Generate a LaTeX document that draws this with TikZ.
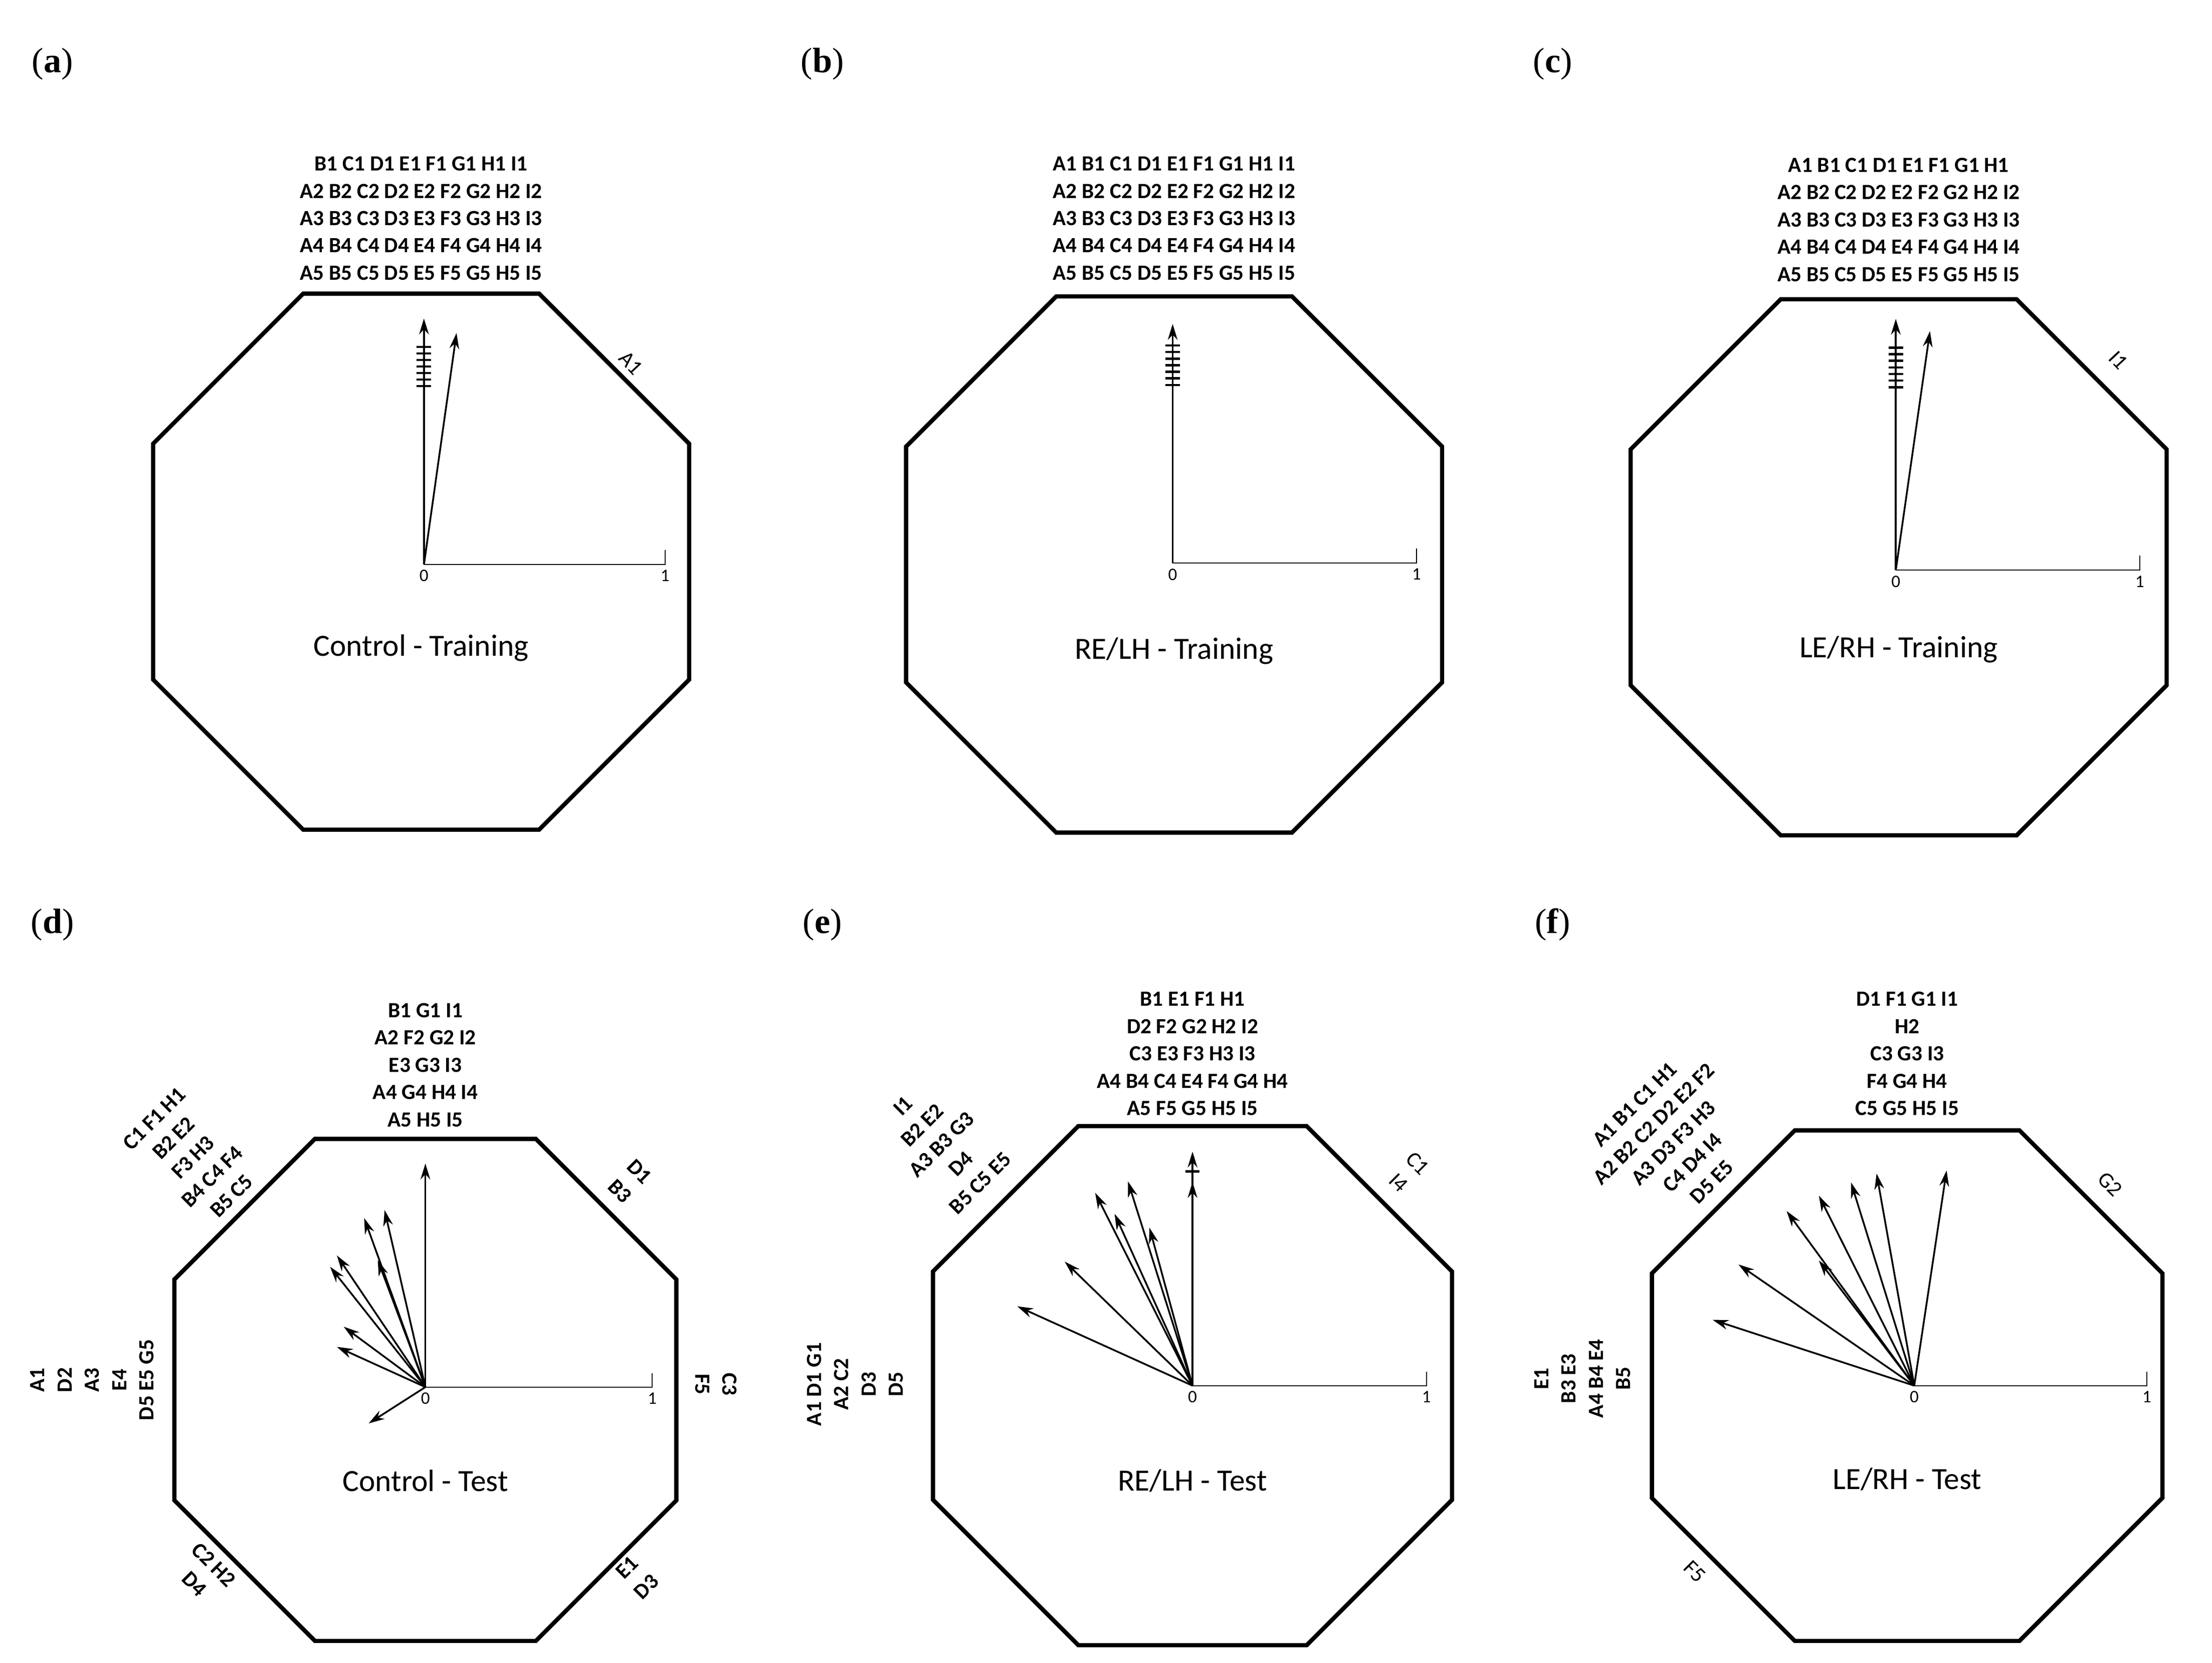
\documentclass[tikz,border=0pt]{standalone}
\usepackage{fontspec}
\setmainfont{Liberation Serif}
\newfontfamily\lab{Carlito}
\usetikzlibrary{arrows.meta}

\tikzset{
  octa/.style={line width=2.4pt, line join=miter},
  vec/.style={-{Stealth[length=9pt,width=5.5pt]}, line width=1pt},
  axis/.style={line width=0.6pt},
  bar/.style={line width=1.3pt},
  ids/.style={font=\lab\bfseries\fontsize{12.3}{15.5}\selectfont, align=center, inner sep=1pt},
  side/.style={font=\lab\fontsize{12.3}{15.5}\selectfont, align=center, inner sep=1pt},
  title/.style={font=\lab\fontsize{17.5}{20}\selectfont},
  num/.style={font=\lab\fontsize{10}{12}\selectfont, below, inner sep=3pt},
  tag/.style={font=\fontsize{20}{24}\selectfont},
}

% octagon: centre x, centre y, half width
\newcommand\drawocta[3]{%
  \draw[octa] ({#1-0.44*#3},{#2-#3}) -- ({#1+0.44*#3},{#2-#3}) -- ({#1+#3},{#2-0.44*#3})
    -- ({#1+#3},{#2+0.44*#3}) -- ({#1+0.44*#3},{#2+#3}) -- ({#1-0.44*#3},{#2+#3})
    -- ({#1-#3},{#2+0.44*#3}) -- ({#1-#3},{#2-0.44*#3}) -- cycle;}

\begin{document}
\begin{tikzpicture}[x=0.2829mm,y=-0.2829mm]
\useasboundingbox (0,0) rectangle (1560,1172.5);

% panel letters
\node[tag] (la) at (37,45) {(\textbf{a})};
\node[tag] (lb) at (580,45) {(\textbf{b})};
\node[tag] (lc) at (1095,45) {(\textbf{c})};
\node[tag] (ld) at (37,652) {(\textbf{d})};
\node[tag] (le) at (580,652) {(\textbf{e})};
\node[tag] (lf) at (1095,652) {(\textbf{f})};

%%% (a) Control - Training
\drawocta{297}{396}{189}
\node[ids, anchor=south] (topa) at (297,199) {B1 C1 D1 E1 F1 G1 H1 I1\\A2 B2 C2 D2 E2 F2 G2 H2 I2\\A3 B3 C3 D3 E3 F3 G3 H3 I3\\A4 B4 C4 D4 E4 F4 G4 H4 I4\\A5 B5 C5 D5 E5 F5 G5 H5 I5};
\node[side, rotate=-47] (ura) at (445,256) {A1};
\node[title] (tia) at (297,457) {Control - Training};
\begin{scope}[shift={(299,398)}, x=170*0.2829mm, y=170*0.2829mm]
  \coordinate (oa) at (0,0);
  \draw[axis] (oa) -- (1,0) coordinate (ea) -- ++(0,0.06);
  \node[num] at (oa) {0};
  \node[num] at (ea) {1};
  \foreach \dx/\dy in {0/1.02, 0.135/0.96}
    \draw[vec] (oa) -- (\dx,\dy);
  \foreach \t in {0.74,0.767,...,0.91}
    \draw[bar] (-0.03,\t) -- (0.03,\t);
\end{scope}

%%% (b) RE/LH - Training
\drawocta{828}{398}{189}
\node[ids, anchor=south] (topb) at (828,199) {A1 B1 C1 D1 E1 F1 G1 H1 I1\\A2 B2 C2 D2 E2 F2 G2 H2 I2\\A3 B3 C3 D3 E3 F3 G3 H3 I3\\A4 B4 C4 D4 E4 F4 G4 H4 I4\\A5 B5 C5 D5 E5 F5 G5 H5 I5};
\node[title] (tib) at (828,459) {RE/LH - Training};
\begin{scope}[shift={(827,397)}, x=172*0.2829mm, y=172*0.2829mm]
  \coordinate (ob) at (0,0);
  \draw[axis] (ob) -- (1,0) coordinate (eb) -- ++(0,0.06);
  \node[num] at (ob) {0};
  \node[num] at (eb) {1};
  \draw[vec] (ob) -- (0,0.98);
  \foreach \t in {0.73,0.757,...,0.9}
    \draw[bar] (-0.03,\t) -- (0.03,\t);
\end{scope}

%%% (c) LE/RH - Training
\drawocta{1339}{400}{189}
\node[ids, anchor=south] (topc) at (1339,200) {A1 B1 C1 D1 E1 F1 G1 H1\\A2 B2 C2 D2 E2 F2 G2 H2 I2\\A3 B3 C3 D3 E3 F3 G3 H3 I3\\A4 B4 C4 D4 E4 F4 G4 H4 I4\\A5 B5 C5 D5 E5 F5 G5 H5 I5};
\node[side, rotate=-47] (urc) at (1494,254) {I1};
\node[title] (tic) at (1339,458) {LE/RH - Training};
\begin{scope}[shift={(1337,402)}, x=172*0.2829mm, y=172*0.2829mm]
  \coordinate (oc) at (0,0);
  \draw[axis] (oc) -- (1,0) coordinate (ec) -- ++(0,0.06);
  \node[num] at (oc) {0};
  \node[num] at (ec) {1};
  \foreach \dx/\dy in {0/1.03, 0.14/0.98}
    \draw[vec] (oc) -- (\dx,\dy);
  \foreach \t in {0.75,0.777,...,0.92}
    \draw[bar] (-0.03,\t) -- (0.03,\t);
\end{scope}

%%% (d) Control - Test
\drawocta{300}{980}{177}
\node[ids, anchor=south] (topd) at (300,796) {B1 G1 I1\\A2 F2 G2 I2\\E3 G3 I3\\A4 G4 H4 I4\\A5 H5 I5};
\node[ids, rotate=45] (uld) at (136,816) {C1 F1 H1\\B2 E2\\F3 H3\\B4 C4 F4\\B5 C5};
\node[ids, rotate=90] (lfd) at (65,973) {A1\\D2\\A3\\E4\\D5 E5 G5};
\node[ids, rotate=-90] (rtd) at (505,976) {C3\\F5};
\node[ids, rotate=-45] (urd) at (444,833) {D1\\B3};
\node[ids, rotate=45] (lrd) at (449,1112) {E1\\D3};
\node[ids, rotate=-45] (lld) at (144,1110) {C2 H2\\D4};
\node[title] (tid) at (300,1044) {Control - Test};
\begin{scope}[shift={(300,978)}, x=160*0.2829mm, y=160*0.2829mm]
  \coordinate (od) at (0,0);
  \draw[axis] (od) -- (1,0) coordinate (ed) -- ++(0,0.06);
  \node[num] at (od) {0};
  \node[num] at (ed) {1};
  \foreach \dx/\dy in {0/0.985, -0.18/0.78, -0.27/0.745, -0.21/0.56, -0.39/0.58,
                       -0.42/0.53, -0.36/0.266, -0.39/0.177, -0.25/-0.16}
    \draw[vec] (od) -- (\dx,\dy);
\end{scope}

%%% (e) RE/LH - Test
\drawocta{841}{977}{183}
\node[ids, anchor=south] (tope) at (841,788) {B1 E1 F1 H1\\D2 F2 G2 H2 I2\\C3 E3 F3 H3 I3\\A4 B4 C4 E4 F4 G4 H4\\A5 F5 G5 H5 I5};
\node[ids, rotate=45] (ule) at (664,807) {I1\\B2 E2\\A3 B3 G3\\D4\\B5 C5 E5};
\node[ids, rotate=90] (lfe) at (603,976) {A1 D1 G1\\A2 C2\\D3\\D5};
\node[side, rotate=-45] (ure) at (993,827) {C1\\I4};
\node[title] (tie) at (841,1044) {RE/LH - Test};
\begin{scope}[shift={(841,977)}, x=165*0.2829mm, y=165*0.2829mm]
  \coordinate (oe) at (0,0);
  \draw[axis] (oe) -- (1,0) coordinate (ee) -- ++(0,0.06);
  \node[num] at (oe) {0};
  \node[num] at (ee) {1};
  \foreach \dx/\dy in {0/1.0, 0/0.87, -0.276/0.873, -0.416/0.824, -0.333/0.734,
                       -0.184/0.675, -0.546/0.53, -0.749/0.339}
    \draw[vec] (oe) -- (\dx,\dy);
  \draw[bar] (-0.03,0.915) -- (0.03,0.915);
\end{scope}

%%% (f) LE/RH - Test
\drawocta{1345}{977}{180}
\node[ids, anchor=south] (topf) at (1345,788) {D1 F1 G1 I1\\H2\\C3 G3 I3\\F4 G4 H4\\C5 G5 H5 I5};
\node[ids, rotate=45] (ulf) at (1180,806) {A1 B1 C1 H1\\A2 B2 C2 D2 E2 F2\\A3 D3 F3 H3\\C4 D4 I4\\D5 E5};
\node[ids, rotate=90] (lff) at (1116,972) {E1\\B3 E3\\A4 B4 E4\\B5};
\node[side, rotate=-45] (urf) at (1488,835) {G2};
\node[side, rotate=-45] (llf) at (1195,1108) {F5};
\node[title] (tif) at (1345,1043) {LE/RH - Test};
\begin{scope}[shift={(1350,977)}, x=164*0.2829mm, y=164*0.2829mm]
  \coordinate (of) at (0,0);
  \draw[axis] (of) -- (1,0) coordinate (ef) -- ++(0,0.06);
  \node[num] at (of) {0};
  \node[num] at (ef) {1};
  \foreach \dx/\dy in {0.139/0.925, -0.162/0.912, -0.272/0.874, -0.41/0.817,
                       -0.549/0.751, -0.41/0.538, -0.756/0.521, -0.867/0.283}
    \draw[vec] (of) -- (\dx,\dy);
\end{scope}
\end{tikzpicture}
\end{document}
